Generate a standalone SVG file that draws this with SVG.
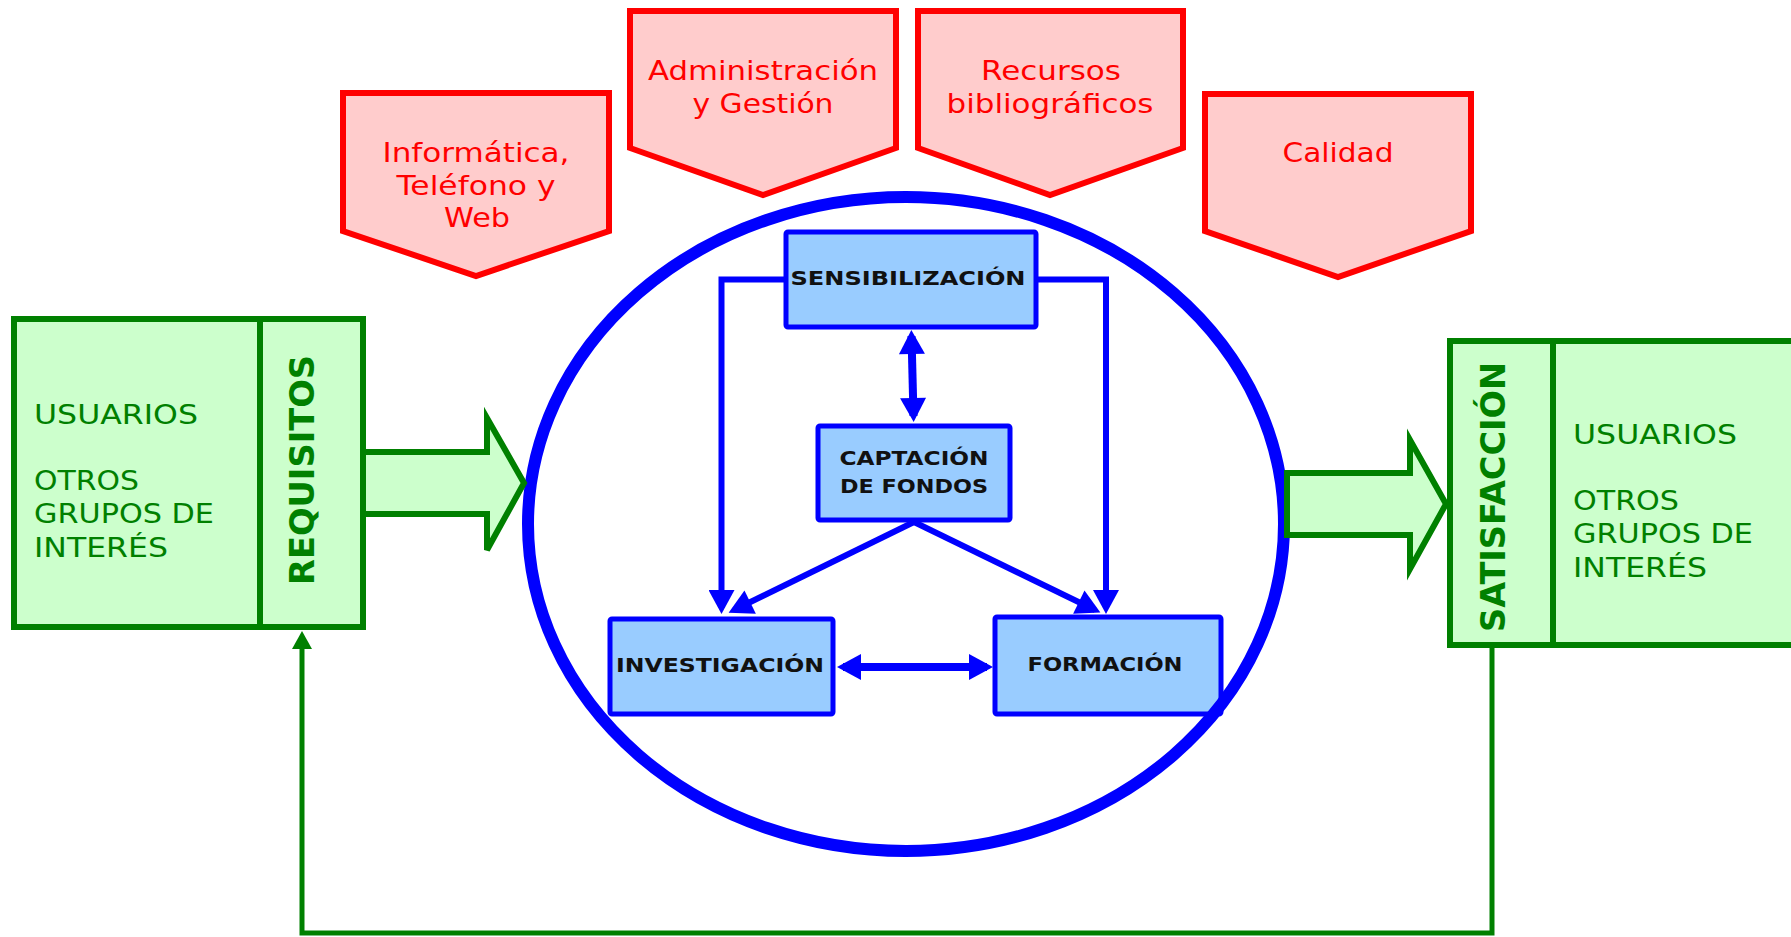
<svg xmlns="http://www.w3.org/2000/svg" width="1791" height="937" viewBox="0 0 1791 937">
<style>
.pent{fill:#FFCCCC;stroke:#FF0000;stroke-width:6;stroke-linejoin:miter}
.rt{font-family:Verdana,"DejaVu Sans",sans-serif;font-size:27px;fill:#FF0000;text-anchor:middle}
.gbox{fill:#CCFFCC;stroke:#008000;stroke-width:6}
.gt{font-family:Verdana,"DejaVu Sans",sans-serif;font-size:26px;fill:#008000}
.gtb{font-family:Verdana,"DejaVu Sans",sans-serif;font-size:34px;font-weight:bold;fill:#008000;text-anchor:middle}
.bbox{fill:#99CCFF;stroke:#0000FF;stroke-width:5;stroke-linejoin:round}
.bt{font-family:Verdana,"DejaVu Sans",sans-serif;font-size:20px;font-weight:bold;fill:#111;text-anchor:middle}
.bl{fill:none;stroke:#0000FF;stroke-width:6}
.gl{fill:none;stroke:#008000;stroke-width:5}
</style>
<defs>
<marker id="ab" markerUnits="userSpaceOnUse" markerWidth="26" markerHeight="26" viewBox="0 0 24 26" refX="18" refY="13" orient="auto-start-reverse">
<path d="M0,0 L24,13 L0,26 Z" fill="#0000FF"/>
</marker>
<marker id="ag" markerUnits="userSpaceOnUse" markerWidth="20" markerHeight="20" viewBox="0 0 18 20" refX="13" refY="10" orient="auto">
<path d="M0,0 L18,10 L0,20 Z" fill="#008000"/>
</marker>
</defs>
<rect x="0" y="0" width="1791" height="937" fill="#FFFFFF"/>

<g id="n-sensibilizacion">
<rect class="bbox" x="786" y="232" width="250" height="95" rx="2"/>
<text class="bt" x="908" y="285" textLength="235" lengthAdjust="spacingAndGlyphs">SENSIBILIZACIÓN</text>
</g>
<g id="n-captacion">
<rect class="bbox" x="818" y="426" width="192" height="94" rx="2"/>
<text class="bt" x="914" y="465" textLength="149" lengthAdjust="spacingAndGlyphs">CAPTACIÓN</text>
<text class="bt" x="914" y="493" textLength="148" lengthAdjust="spacingAndGlyphs">DE FONDOS</text>
</g>
<g id="n-investigacion">
<rect class="bbox" x="610" y="619" width="223" height="95" rx="2"/>
<text class="bt" x="720" y="672" textLength="208" lengthAdjust="spacingAndGlyphs">INVESTIGACIÓN</text>
</g>
<g id="n-formacion">
<rect class="bbox" x="995" y="617" width="226" height="97" rx="2"/>
<text class="bt" x="1105" y="671" textLength="155" lengthAdjust="spacingAndGlyphs">FORMACIÓN</text>
</g>

<g id="connectors">
<path class="bl" d="M786,279.5 H721.5 V608" marker-end="url(#ab)"/>
<path class="bl" d="M1036,279.5 H1106 V608" marker-end="url(#ab)"/>
<path class="bl" style="stroke-width:8" d="M911.5,336 L913.5,416" marker-start="url(#ab)" marker-end="url(#ab)"/>
<path class="bl" d="M914,522 L734,610" marker-end="url(#ab)"/>
<path class="bl" d="M914,522 L1095,610" marker-end="url(#ab)"/>
<path class="bl" style="stroke-width:8" d="M843,667 H987" marker-start="url(#ab)" marker-end="url(#ab)"/>
<path class="gl" d="M1492,645 V933 H302 V636" marker-end="url(#ag)"/>
</g>

<g id="n-nucleo">
<ellipse cx="906" cy="524" rx="378" ry="327" fill="none" stroke="#0000FF" stroke-width="12"/>
</g>

<g id="n-requisitos">
<rect class="gbox" x="14" y="319" width="349" height="308"/>
<line x1="260" y1="319" x2="260" y2="627" stroke="#008000" stroke-width="6"/>
<text class="gt" x="34" y="424" textLength="164" lengthAdjust="spacingAndGlyphs">USUARIOS</text>
<text class="gt" x="34" y="490" textLength="105" lengthAdjust="spacingAndGlyphs">OTROS</text>
<text class="gt" x="34" y="523" textLength="180" lengthAdjust="spacingAndGlyphs">GRUPOS DE</text>
<text class="gt" x="34" y="557" textLength="134" lengthAdjust="spacingAndGlyphs">INTERÉS</text>
<text class="gtb" transform="translate(314,470) rotate(-90)" textLength="230" lengthAdjust="spacingAndGlyphs">REQUISITOS</text>
</g>
<g id="n-flecha-entrada">
<polygon class="gbox" points="363,452 487,452 487,418 524,483 487,550 487,514 363,514"/>
</g>
<g id="n-flecha-salida">
<polygon class="gbox" points="1287,473 1410,473 1410,440 1446,504 1410,569 1410,535 1287,535"/>
</g>
<g id="n-satisfaccion">
<rect class="gbox" x="1450" y="341" width="360" height="304"/>
<line x1="1553" y1="341" x2="1553" y2="645" stroke="#008000" stroke-width="6"/>
<text class="gt" x="1573" y="444" textLength="164" lengthAdjust="spacingAndGlyphs">USUARIOS</text>
<text class="gt" x="1573" y="510" textLength="106" lengthAdjust="spacingAndGlyphs">OTROS</text>
<text class="gt" x="1573" y="543" textLength="180" lengthAdjust="spacingAndGlyphs">GRUPOS DE</text>
<text class="gt" x="1573" y="577" textLength="134" lengthAdjust="spacingAndGlyphs">INTERÉS</text>
<text class="gtb" transform="translate(1505,497) rotate(-90)" textLength="270" lengthAdjust="spacingAndGlyphs">SATISFACCIÓN</text>
</g>

<g id="n-informatica">
<path class="pent" d="M343,93 H609 V231 L476,276 L343,231 Z"/>
<text class="rt" x="476" y="162" textLength="187" lengthAdjust="spacingAndGlyphs">Informática,</text>
<text class="rt" x="476" y="195" textLength="159" lengthAdjust="spacingAndGlyphs">Teléfono y</text>
<text class="rt" x="477" y="227" textLength="66" lengthAdjust="spacingAndGlyphs">Web</text>
</g>
<g id="n-administracion">
<path class="pent" d="M630,11 H896 V148 L763,195 L630,148 Z"/>
<text class="rt" x="763" y="80" textLength="230" lengthAdjust="spacingAndGlyphs">Administración</text>
<text class="rt" x="763" y="113" textLength="141" lengthAdjust="spacingAndGlyphs">y Gestión</text>
</g>
<g id="n-recursos">
<path class="pent" d="M918,11 H1183 V148 L1050,195 L918,148 Z"/>
<text class="rt" x="1051" y="80" textLength="140" lengthAdjust="spacingAndGlyphs">Recursos</text>
<text class="rt" x="1050" y="113" textLength="207" lengthAdjust="spacingAndGlyphs">bibliográficos</text>
</g>
<g id="n-calidad">
<path class="pent" d="M1205,94 H1471 V231 L1338,277 L1205,231 Z"/>
<text class="rt" x="1338" y="162" textLength="111" lengthAdjust="spacingAndGlyphs">Calidad</text>
</g>
</svg>
